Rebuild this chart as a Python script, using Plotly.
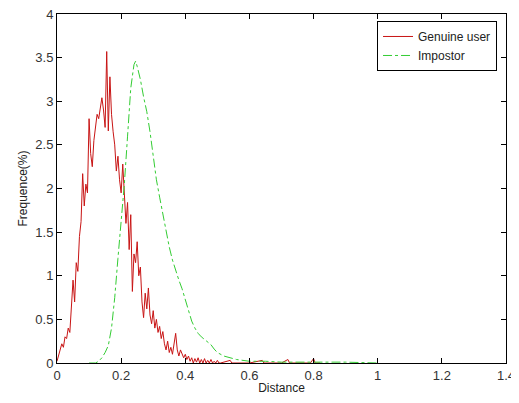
import plotly.graph_objs as go

# genuine user distance histogram (percent)
genuine_x = [0.000, 0.005, 0.010, 0.015, 0.020, 0.025, 0.030, 0.035, 0.040, 0.045,
             0.050, 0.055, 0.060, 0.065, 0.070, 0.075, 0.080, 0.085, 0.090, 0.095,
             0.100, 0.105, 0.110, 0.115, 0.120, 0.125, 0.130, 0.135, 0.140, 0.145,
             0.150, 0.155, 0.160, 0.165, 0.170, 0.175, 0.180, 0.185, 0.190, 0.195,
             0.200, 0.205, 0.210, 0.215, 0.220, 0.225, 0.230, 0.235, 0.240, 0.245,
             0.250, 0.255, 0.260, 0.265, 0.270, 0.275, 0.280, 0.285, 0.290, 0.295,
             0.300, 0.305, 0.310, 0.315, 0.320, 0.325, 0.330, 0.335, 0.340, 0.345,
             0.350, 0.355, 0.360, 0.365, 0.370, 0.375, 0.380, 0.385, 0.390, 0.395,
             0.400, 0.405, 0.410, 0.415, 0.420, 0.425, 0.430, 0.435, 0.440, 0.445,
             0.450, 0.455, 0.460, 0.465, 0.470, 0.475, 0.480, 0.485, 0.490, 0.495,
             0.500, 0.505, 0.510, 0.540, 0.545, 0.600, 0.640, 0.645, 0.700, 0.720,
             0.725, 0.790, 0.800, 0.805, 0.820]
genuine_y = [0.02, 0.08, 0.15, 0.22, 0.18, 0.30, 0.28, 0.40, 0.35, 0.62,
             0.95, 0.70, 1.15, 1.05, 1.45, 1.62, 2.17, 1.80, 2.05, 1.95,
             2.80, 2.40, 2.25, 2.55, 2.70, 2.85, 2.80, 2.95, 3.04, 2.90,
             2.70, 3.57, 2.66, 3.28, 2.85, 2.65, 2.50, 2.20, 2.37, 2.10,
             1.95, 2.28, 1.85, 1.60, 1.84, 1.30, 1.70, 0.82, 1.25, 1.15,
             1.39, 1.00, 1.10, 0.70, 0.52, 0.80, 0.62, 0.86, 0.55, 0.45,
             0.60, 0.40, 0.50, 0.35, 0.42, 0.28, 0.36, 0.22, 0.15, 0.25,
             0.12, 0.18, 0.10, 0.20, 0.34, 0.15, 0.08, 0.15, 0.11, 0.06,
             0.10, 0.04, 0.08, 0.02, 0.06, 0.00, 0.05, 0.01, 0.06, 0.00,
             0.04, 0.00, 0.05, 0.00, 0.03, 0.00, 0.04, 0.00, 0.02, 0.00,
             0.03, 0.00, 0.00, 0.03, 0.00, 0.00, 0.03, 0.00, 0.00, 0.04,
             0.00, 0.00, 0.05, 0.00, 0.00]

# impostor distance histogram (percent)
impostor_x = [0.10, 0.12, 0.13, 0.14, 0.15, 0.16, 0.17, 0.18, 0.19, 0.20,
              0.21, 0.22, 0.23, 0.24, 0.245, 0.25, 0.26, 0.27, 0.28, 0.29,
              0.30, 0.31, 0.32, 0.33, 0.34, 0.35, 0.36, 0.37, 0.38, 0.39,
              0.40, 0.41, 0.42, 0.43, 0.44, 0.45, 0.46, 0.47, 0.48, 0.49,
              0.50, 0.52, 0.54, 0.56, 0.58, 0.60, 0.65, 0.70, 0.80, 0.90, 1.00]
impostor_y = [0.00, 0.00, 0.02, 0.06, 0.12, 0.20, 0.40, 0.75, 1.20, 1.60,
              2.05, 2.60, 3.15, 3.42, 3.46, 3.40, 3.25, 3.05, 2.88, 2.65,
              2.38, 2.10, 1.90, 1.70, 1.50, 1.33, 1.18, 1.05, 0.95, 0.85,
              0.72, 0.60, 0.48, 0.40, 0.34, 0.30, 0.27, 0.24, 0.21, 0.16,
              0.12, 0.08, 0.06, 0.04, 0.03, 0.02, 0.02, 0.01, 0.01, 0.01, 0.00]

fig = go.Figure()
fig.add_trace(go.Scatter(x=genuine_x, y=genuine_y, mode="lines", name="Genuine user",
                         line=dict(color="#c81414", width=1)))
fig.add_trace(go.Scatter(x=impostor_x, y=impostor_y, mode="lines", name="Impostor",
                         line=dict(color="#33cc33", width=1, dash="dashdot")))

axis_style = dict(showgrid=False, zeroline=False, showline=True, linecolor="black",
                  linewidth=1, mirror="ticks", ticks="inside", ticklen=5,
                  tickcolor="black", automargin=False, ticklabeloverflow="allow",
                  tickfont=dict(size=13, color="#333"))

fig.update_xaxes(range=[0, 1.4], dtick=0.2, tick0=0,
                 title=dict(text="Distance", font=dict(size=12, color="#222"), standoff=0),
                 **axis_style)
fig.update_yaxes(range=[0, 4], dtick=0.5, tick0=0,
                 title=dict(text="Frequence(%)", font=dict(size=12, color="#222"), standoff=5),
                 **axis_style)

# page body has an 8px margin all round, so the figure is shrunk to fit the window
fig.update_layout(width=511, height=387, autosize=False,
                  margin=dict(l=49, r=13, t=6, b=32),
                  paper_bgcolor="white", plot_bgcolor="white",
                  font=dict(family="Liberation Sans", size=12, color="#222"),
                  legend=dict(x=0.98, y=0.98, xanchor="right", yanchor="top",
                              bgcolor="white", bordercolor="black", borderwidth=1,
                              font=dict(size=12), tracegroupgap=0))

fig.write_html("out.html")
